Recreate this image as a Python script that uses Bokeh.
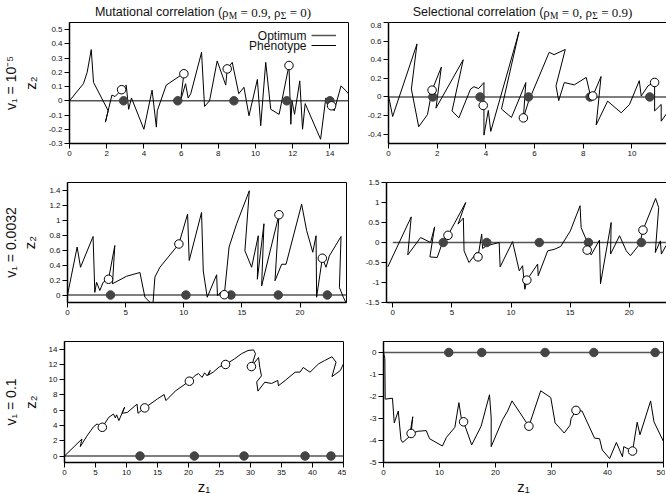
from bokeh.plotting import figure
from bokeh.layouts import column, row
from bokeh.models import (Range1d, FixedTicker, CustomJSTickFormatter, Label, Title,
                          Legend, LegendItem)
from bokeh.core.properties import value
from bokeh.embed import file_html
from bokeh.resources import INLINE

# ---------------- data ----------------
# Panel 1: mutational correlation, v1 = 1e-5
p1_z1 = [0, 0.75, 0.95, 1.17, 1.29, 2.08, 1.93, 2.28, 2.45, 2.8, 3.05, 3.18, 3.33, 4.0, 4.44,
         4.67, 4.72, 5.2, 5.88, 6.15, 5.97, 6.24, 6.38, 6.52, 7.1, 7.26, 7.53, 7.94, 8.4, 8.48,
         8.75, 9.1, 9.38, 9.65, 10.1, 10.28, 10.55, 10.82, 11.27, 11.8, 11.9, 11.96, 12.1, 12.38,
         12.53, 12.67, 13.5, 13.78, 13.96, 14.09, 14.23, 14.6, 14.86, 15.0]
p1_z2 = [0, 0.12, 0.2, 0.36, 0.13, -0.07, -0.15, 0.04, 0.03, 0.078, 0.11, -0.06, 0.02, -0.2, 0.075,
         -0.185, -0.07, 0.11, 0.17, 0.19, 0.0, 0.12, 0.02, 0.05, 0.34, -0.04, 0.0, 0.28, 0.11, 0.224,
         0.27, 0.05, 0.095, -0.105, 0.15, -0.175, 0.27, -0.06, -0.095, 0.248, -0.165, 0.0, -0.095, 0.14,
         -0.2, -0.02, -0.27, 0.02, 0.0, -0.035, -0.07, 0.105, 0.07, 0.05]
p1_opt_z1 = [2.91, 5.82, 8.84, 11.68, 14.0]
p1_pt_z1 = [2.8, 6.15, 8.48, 11.8, 14.09]
p1_pt_z2 = [0.078, 0.19, 0.224, 0.248, -0.035]
p1_path = [0, 15]

# Panel 2: selectional correlation, v1 = 1e-5
p2_z1 = [0, 0.05, 0.17, 1.17, 0.94, 1.24, 1.6, 1.79, 2.17, 1.95, 3.07, 2.61, 2.89, 3.37, 3.51, 3.7,
         3.92, 3.92, 4.1, 4.2, 5.36, 4.64, 5.05, 5.4, 5.64, 5.54, 5.75, 6.6, 6.8, 7.26, 6.88, 6.99,
         7.22, 7.63, 8.12, 8.28, 8.39, 8.73, 8.53, 9.0, 9.56, 9.9, 10.3, 10.38, 10.66, 10.93, 10.93,
         11.2, 11.2, 11.5]
p2_z2 = [0, -0.05, -0.21, 0.57, 0.085, -0.32, -0.19, 0.073, 0.32, -0.12, 0.4, -0.15, -0.225, 0.085,
         0.11, 0.09, 0.155, -0.41, -0.145, -0.37, 0.7, -0.13, -0.22, 0.0, 0.155, -0.225, -0.05, 0.48,
         0.455, 0.51, 0.12, -0.04, 0.155, 0.13, 0.21, 0.03, 0.01, 0.22, -0.3, -0.045, -0.17, -0.08,
         0.175, 0.01, 0.12, 0.157, -0.15, -0.08, -0.26, -0.15]
p2_opt_z1 = [1.82, 3.76, 5.75, 8.28, 10.73]
p2_pt_z1 = [1.79, 3.89, 5.54, 8.39, 10.93]
p2_pt_z2 = [0.073, -0.091, -0.225, 0.011, 0.156]
p2_path = [0, 11.5]

# Panel 3: mutational correlation, v1 = 0.0032
p3_z1 = [0, 0.83, 1.12, 2.2, 2.35, 2.5, 2.78, 3.07, 3.53, 4.07, 3.87, 5.08, 6.23, 6.66, 7.25, 7.35,
         7.52, 7.95, 9.58, 10.33, 10.47, 11.53, 11.68, 12.02, 12.83, 12.9, 13.2, 13.49, 13.9, 14.55,
         15.64, 15.26, 15.84, 16.41, 16.33, 16.9, 16.7, 18.19, 17.85, 18.42, 18.8, 20.14, 20.57, 21.1,
         21.38, 21.43, 21.92, 22.24, 22.52, 23.53, 23.39, 23.73, 24.0]
p3_z2 = [0, 0.64, 0.37, 0.78, 0.035, 0.17, 0.06, 0.17, 0.21, 0.66, 0.15, 0.25, 0.3, -0.03, -0.12,
         -0.12, 0.24, 0.37, 0.68, 1.08, 0.46, 1.1, 0.32, -0.03, 0.27, -0.01, 0.04, 0.004, 0.64, 0.95,
         1.39, 0.59, 0.37, 0.79, 0.21, 0.95, 0.12, 1.07, 0.19, 0.41, 0.41, 1.21, 0.86, 0.57, 0.79,
         -0.03, 0.49, 0.37, 0.52, 0.78, 0.1, -0.03, -0.12]
p3_opt_z1 = [3.7, 10.19, 14.06, 18.13, 22.35]
p3_pt_z1 = [3.53, 9.58, 13.49, 18.19, 21.92]
p3_pt_z2 = [0.21, 0.68, 0.004, 1.07, 0.49]
p3_path = [0, 24]

# Panel 4: selectional correlation, v1 = 0.0032
p4_z1 = [-0.42, 1.56, 1.27, 2.35, 3.2, 3.54, 3.14, 3.76, 4.2, 4.67, 6.17, 5.52, 5.97, 6.03, 6.45,
         7.1, 7.21, 7.52, 7.6, 7.95, 9.0, 9.08, 10.13, 10.7, 10.98, 11.17, 11.34, 12.25, 12.3, 13.1,
         13.66, 14.2, 15.02, 15.84, 15.93, 16.35, 16.44, 16.78, 17.48, 17.57, 18.47, 18.42, 19.18,
         19.75, 20.1, 20.88, 21.16, 22.23, 22.49, 22.2, 22.63, 22.72, 23.1]
p4_z2 = [-0.61, 0.64, -0.31, 0.125, 0.0, 0.39, -0.36, -0.375, 0.0, 0.18, 1.0, 0.46, 0.61, -0.21,
         -0.5, -0.25, -0.36, 0.21, -0.15, -0.08, 0.0, -0.61, 0.02, -0.71, -0.58, -1.17, -0.94, -0.54,
         -0.83, -0.21, -0.17, -0.1, 0.29, 0.92, 0.37, 0.08, -0.19, -0.31, 0.06, -1.03, 0.5, -0.29,
         0.17, -0.21, -0.33, -0.04, 0.31, 1.1, 0.875, -0.25, 0.04, -0.29, -0.08]
p4_opt_z1 = [4.27, 7.95, 12.39, 16.55, 21.02]
p4_pt_z1 = [4.67, 7.21, 11.34, 16.44, 21.16]
p4_pt_z2 = [0.18, -0.36, -0.94, -0.19, 0.31]
p4_path = [0, 23.15]

# Panel 5: mutational correlation, v1 = 0.1
p5_z1 = [0, 2.81, 2.54, 3.6, 4.7, 5.25, 6.1, 7.14, 7.9, 8.2, 8.4, 8.77, 9.7, 9.3, 10.12, 11.7, 11.85,
         12.94, 14.99, 16.07, 16.35, 17.97, 20.14, 21.06, 21.6, 22.2, 22.6, 23.0, 23.5, 23.2, 24.0,
         25.0, 25.98, 27.44, 28.52, 29.6, 30.5, 30.8, 30.15, 31.3, 31.5, 31.77, 31.0, 31.2, 32.3,
         33.4, 34.4, 34.5, 35.6, 37.2, 38.0, 38.5, 39.6, 40.97, 41.95, 43.14, 43.8, 43.14, 44.5, 45.0]
p5_z2 = [0, 2.23, 1.22, 2.6, 3.85, 4.2, 3.76, 5.07, 5.5, 5.0, 5.4, 4.64, 6.4, 5.6, 5.7, 6.8, 5.6,
         6.3, 7.48, 8.05, 7.26, 8.57, 9.8, 10.54, 10.8, 10.3, 10.9, 10.5, 11.2, 10.6, 11.0,
         11.7, 11.99, 12.73, 13.39, 13.82, 13.9, 13.4, 11.72, 12.9, 11.6, 10.5, 9.7, 8.5, 9.67,
         9.5, 9.9, 9.2, 9.9, 10.98, 11.0, 11.6, 10.98, 12.07, 12.5, 13.0, 12.3, 10.4, 11.2, 12.1]
p5_opt_z1 = [12.18, 20.95, 28.96, 38.8, 42.98]
p5_pt_z1 = [6.1, 12.94, 20.14, 25.98, 30.15]
p5_pt_z2 = [3.76, 6.3, 9.8, 11.99, 11.72]
p5_path = [0, 45]

# Panel 6: selectional correlation, v1 = 0.1
p6_z1 = [0, 0.24, 0.3, 1.6, 1.92, 2.64, 3.12, 3.43, 4.63, 5.23, 4.93, 6.13, 7.63, 8.23, 10.52, 11.24,
         12.74, 13.46, 13.9, 14.3, 15.75, 17.43, 18.93, 19.23, 19.23, 21.27, 22.17, 22.95, 25.96,
         28.07, 29.87, 30.65, 32.27, 33.3, 33.5, 34.37, 35.46, 37.68, 38.58, 39.06, 40.38, 41.59,
         42.67, 42.9, 43.8, 44.47, 45.3, 45.8, 47.7, 48.3, 50.0]
p6_z2 = [0, -0.28, -2.12, -2.08, -3.2, -2.66, -3.97, -4.09, -3.82, -2.92, -3.68, -3.58, -3.55, -3.92,
         -4.25, -3.86, -3.4, -2.28, -3.0, -3.15, -4.2, -3.35, -1.92, -2.97, -4.28, -3.05, -2.66, -2.2,
         -3.35, -1.74, -2.05, -3.2, -3.66, -3.31, -3.0, -2.63, -2.66, -3.89, -3.92, -4.43, -4.82,
         -4.09, -4.74, -4.28, -4.4, -4.48, -3.17, -3.74, -2.2, -3.15, -4.05]
p6_opt_z1 = [11.66, 17.55, 28.85, 37.56, 48.5]
p6_pt_z1 = [4.93, 14.3, 25.96, 34.37, 44.47]
p6_pt_z2 = [-3.68, -3.15, -3.35, -2.63, -4.48]
p6_path = [0, 50]

# axes
p1_xticks = [0, 2, 4, 6, 8, 10, 12, 14]
p1_yticks = [-0.3, -0.2, -0.1, 0, 0.1, 0.2, 0.3, 0.4, 0.5]
p2_xticks = [0, 2, 4, 6, 8, 10]
p2_yticks = [-0.4, -0.2, 0, 0.2, 0.4, 0.6, 0.8]
p3_xticks = [0, 5, 10, 15, 20]
p3_yticks = [0, 0.2, 0.4, 0.6, 0.8, 1.0, 1.2, 1.4]
p4_xticks = [0, 5, 10, 15, 20]
p4_yticks = [-1.5, -1, -0.5, 0, 0.5, 1, 1.5]
p5_xticks = [0, 5, 10, 15, 20, 25, 30, 35, 40, 45]
p5_yticks = [0, 2, 4, 6, 8, 10, 12, 14]
p6_xticks = [0, 10, 20, 30, 40, 50]
p6_yticks = [-5, -4, -3, -2, -1, 0]

row_labels = ["v\u2081 = 10\u207b\u2075", "v\u2081 = 0.0032", "v\u2081 = 0.1"]
col_titles = ["Mutational correlation (", "Selectional correlation ("]
col_rho_m = ["0.9", "0"]
col_rho_s = ["0", "0.9"]
legend_names = ["Optimum", "Phenotype"]

# ---------------- styling helpers ----------------
SANS = "Liberation Sans"
SERIF = "Liberation Serif"

ARIAL_W = {'M': 833, 'u': 556, 't': 278, 'a': 556, 'i': 222, 'o': 556, 'n': 556, 'l': 222,
           ' ': 278, 'c': 500, 'r': 333, 'e': 556, '(': 333, 'S': 667}
TIMES_W = {'\u03c1': 520, 'M': 889, ' ': 250, '=': 564, '0': 500, '.': 250, '9': 500, ',': 250,
           '\u03a3': 600, ')': 333}


def tw(s, table, size):
    return sum(table.get(c, 520) for c in s) * size / 1000.0


FMT = CustomJSTickFormatter(code="""
const v = Math.round(tick * 1000) / 1000;
if (Math.abs(v) < 1e-9) { return "0"; }
return String(v);
""")

LW, RW = 279, 280
LBL, LBR, RBL, RBR = 63, 3, 37, 2
TOTAL_W = LBL + LW + LBR + RBL + RW + RBR
STRIP_H = 22
rows_spec = [(0, 121, 22), (17, 120, 22), (17, 121, 30)]   # top border, frame h, bottom border
ylab_standoff = [7, 8, 7]


def make_panel(xr, yr, xt, yt, fw, fh, bl, br, bt, bb):
    p = figure(frame_width=fw, frame_height=fh, x_range=Range1d(*xr), y_range=Range1d(*yr),
               output_backend="svg", toolbar_location=None, title=None,
               min_border_left=bl, min_border_right=br, min_border_top=bt, min_border_bottom=bb)
    p.xgrid.visible = False
    p.ygrid.visible = False
    p.outline_line_color = "black"
    p.outline_line_width = 1
    p.outline_line_alpha = 1
    p.background_fill_color = "white"
    p.border_fill_color = "white"
    for ax, t in ((p.xaxis[0], xt), (p.yaxis[0], yt)):
        ax.ticker = FixedTicker(ticks=t, minor_ticks=[])
        ax.formatter = FMT
        ax.major_tick_out = 5
        ax.major_tick_in = 0
        ax.minor_tick_out = 0
        ax.minor_tick_in = 0
        ax.axis_line_width = 1.5
        ax.axis_line_color = "black"
        ax.major_tick_line_color = "black"
        ax.major_label_text_font = SANS
        ax.major_label_text_font_size = "8px"
        ax.major_label_text_color = "#111111"
        ax.major_label_standoff = 2
        ax.axis_label_text_font = SANS
        ax.axis_label_text_font_style = "normal"
        ax.axis_label_text_font_size = "15px"
        ax.axis_label_text_color = "#111111"
    return p


def draw(p, path, z1, z2, opt_z1, pt_z1, pt_z2):
    r_opt = p.line(path, [0] * len(path), line_color="#555555", line_width=1.5)
    r_ph = p.line(z1, z2, line_color="black", line_width=1)
    p.scatter(opt_z1, [0] * len(opt_z1), size=8.5, fill_color="#444444", line_color="#444444")
    p.scatter(pt_z1, pt_z2, size=8.5, fill_color="white", line_color="black", line_width=1)
    return r_opt, r_ph


# ---------------- title strip ----------------
strip = figure(width=TOTAL_W, height=STRIP_H, x_range=Range1d(0, TOTAL_W), y_range=Range1d(0, STRIP_H),
               output_backend="svg", toolbar_location=None, title=None,
               x_axis_type=None, y_axis_type=None,
               min_border_left=0, min_border_right=0, min_border_top=0, min_border_bottom=0)
strip.outline_line_color = None
strip.background_fill_color = "white"
strip.border_fill_color = "white"

centers = [LBL + LW / 2.0, LBL + LW + LBR + RBL + RW / 2.0]
S_SIZE, M_SIZE, SUB_SIZE = 12.5, 13.0, 9.5
BASELINE = 16.0   # canvas pixels from strip top
for c in range(2):
    # (text, font, width table, size, baseline shift down in px, extra gap before in px)
    segs = [(col_titles[c], SANS, ARIAL_W, S_SIZE, 0, 0),
            ("\u03c1", SERIF, TIMES_W, M_SIZE, 0, 0),
            ("M", SERIF, TIMES_W, SUB_SIZE, 3, 0),
            ("= " + col_rho_m[c] + ", \u03c1", SERIF, TIMES_W, M_SIZE, 0, 3.3),
            ("\u03a3", SERIF, TIMES_W, SUB_SIZE, 3, 0),
            ("= " + col_rho_s[c] + ")", SERIF, TIMES_W, M_SIZE, 0, 3.3)]
    total = sum(tw(s, t, sz) + gap for s, _, t, sz, _, gap in segs)
    x = centers[c] - total / 2.0
    for s, font, table, sz, dy, gap in segs:
        x += gap
        mid_canvas = BASELINE + dy - 0.34 * sz
        strip.text(x=[x], y=[STRIP_H - mid_canvas], text=[s], text_font=value(font),
                   text_font_size=f"{sz}px", text_color="#111111",
                   text_align="left", text_baseline="middle")
        x += tw(s, table, sz)

# ---------------- panels ----------------
panels = [
    (p1_path, p1_z1, p1_z2, p1_opt_z1, p1_pt_z1, p1_pt_z2, (0, 15), (-0.3, 0.55), p1_xticks, p1_yticks),
    (p2_path, p2_z1, p2_z2, p2_opt_z1, p2_pt_z1, p2_pt_z2, (0, 11.5), (-0.5, 0.8), p2_xticks, p2_yticks),
    (p3_path, p3_z1, p3_z2, p3_opt_z1, p3_pt_z1, p3_pt_z2, (0, 24), (-0.1, 1.5), p3_xticks, p3_yticks),
    (p4_path, p4_z1, p4_z2, p4_opt_z1, p4_pt_z1, p4_pt_z2, (-0.53, 23.15), (-1.5, 1.5), p4_xticks, p4_yticks),
    (p5_path, p5_z1, p5_z2, p5_opt_z1, p5_pt_z1, p5_pt_z2, (0, 45), (-0.85, 15), p5_xticks, p5_yticks),
    (p6_path, p6_z1, p6_z2, p6_opt_z1, p6_pt_z1, p6_pt_z2, (0, 50), (-5, 0.5), p6_xticks, p6_yticks),
]

figs = []
for i, (path, z1, z2, oz, pz1, pz2, xr, yr, xt, yt) in enumerate(panels):
    r, c = divmod(i, 2)
    bt, fh, bb = rows_spec[r]
    if c == 0:
        p = make_panel(xr, yr, xt, yt, LW, fh, LBL, LBR, bt, bb)
    else:
        p = make_panel(xr, yr, xt, yt, RW, fh, RBL, RBR, bt, bb)
    r_opt, r_ph = draw(p, path, z1, z2, oz, pz1, pz2)
    if c == 0:
        p.yaxis[0].axis_label = "z\u2082"
        p.yaxis[0].axis_label_standoff = ylab_standoff[r]
        p.add_layout(Title(text=row_labels[r], align="center", text_font=SANS,
                           text_font_size="14px", text_font_style="normal",
                           text_color="#111111", standoff=0), "left")
    if r == 2:
        p.xaxis[0].axis_label = "z\u2081"
        p.xaxis[0].axis_label_standoff = 0
    if i == 0:
        leg = Legend(items=[LegendItem(label=value(""), renderers=[r_opt]),
                            LegendItem(label=value(""), renderers=[r_ph])],
                     location=(242, fh - 28), orientation="vertical",
                     glyph_width=25, glyph_height=10, label_width=0, label_height=10,
                     label_standoff=0, spacing=0, padding=0, margin=0,
                     border_line_alpha=0, background_fill_alpha=0,
                     label_text_font_size="1px")
        p.add_layout(leg)
        for k, name in enumerate(legend_names):
            p.add_layout(Label(x=237, y=fh - 13 - 10 * k, x_units="screen", y_units="screen",
                               text=name, text_font=SANS, text_font_size="12px",
                               text_color="#111111", text_align="right", text_baseline="middle"))
    figs.append(p)

layout = column(strip, row(figs[0], figs[1]), row(figs[2], figs[3]), row(figs[4], figs[5]))

open("out.html", "w").write(file_html(layout, INLINE))
